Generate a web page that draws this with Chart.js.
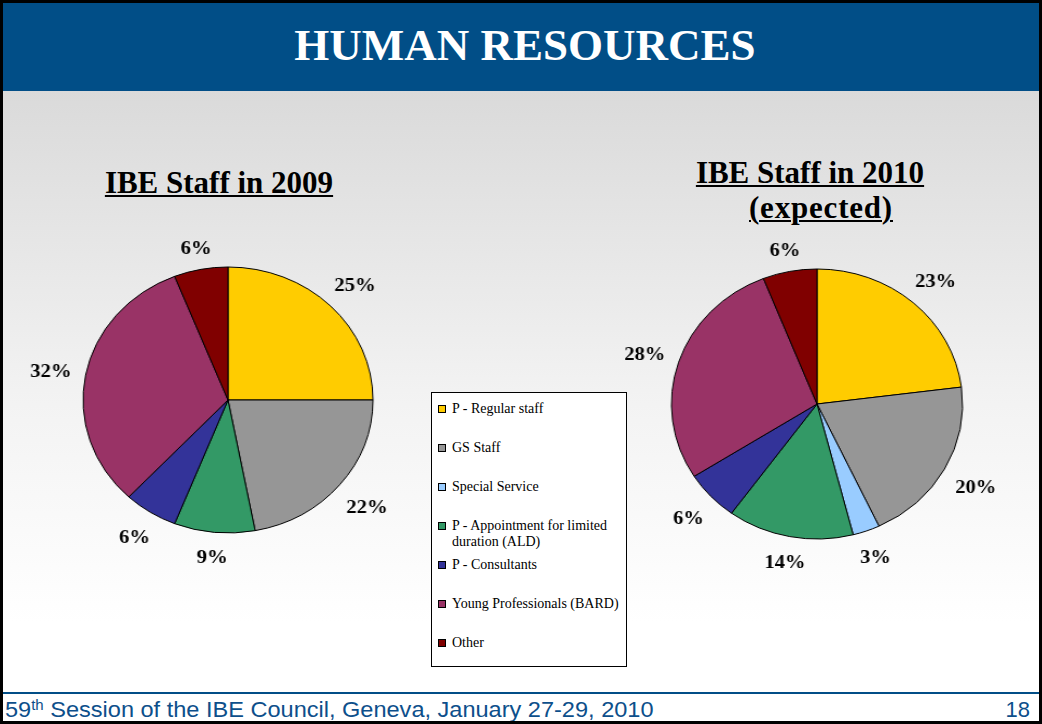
<!DOCTYPE html>
<html>
<head>
<meta charset="utf-8">
<title>Human Resources</title>
<script src="https://cdn.jsdelivr.net/npm/chart.js@4.4.1/dist/chart.umd.min.js"></script>
<style>
    html, body { margin: 0; padding: 0; background: #fff; }
    #slide {
        position: relative; width: 1042px; height: 724px; box-sizing: border-box;
        border: 3px solid #000; overflow: hidden;
        background: linear-gradient(to bottom, #dadada 0px, #dadada 88px, #f3f3f3 400px, #ffffff 620px, #ffffff 724px);
    }
    #header {
        position: absolute; left: 0; top: 0; width: 100%; height: 88px; background: #014e87;
    }
    #header div {
        position: absolute; left: 0; top: 17px; width: 100%; text-align: center;
        font: bold 45px/50px "Liberation Serif", serif; color: #fff; padding-left: 4px;
    }
    .ptitle {
        position: absolute; text-align: center; color: #000;
        font: bold 31px/35px "Liberation Serif", serif;
    }
    .ptitle u { text-decoration-thickness: 2px; text-underline-offset: 2px; }
    .pie { position: absolute; width: 370px; height: 370px; }
    #legend {
        position: absolute; left: 428px; top: 389px; width: 194px; height: 273px;
        background: #fff; border: 1px solid #000; z-index: 2;
    }
    .litem {
        position: absolute; left: 20px; width: 174px;
        font: 14px/16px "Liberation Serif", serif; color: #000;
    }
    .litem span.sw {
        position: absolute; left: -14px; top: 4px; width: 6px; height: 6px; border: 1px solid #000;
    }
    #footline { position: absolute; left: 0; top: 689px; width: 100%; height: 2px; background: #014e87; }
    #footer {
        position: absolute; left: 2px; top: 695px; color: #0d4f8b; white-space: nowrap;
        font: 22px/24px "Liberation Sans", Arial, sans-serif;
        transform: scaleX(1.07); transform-origin: 0 0;
    }
    #footer sup { font-size: 14px; vertical-align: 7px; line-height: 0; }
    #pageno {
        position: absolute; right: 9px; top: 695px; color: #0d4f8b;
        font: 22px/24px "Liberation Sans", Arial, sans-serif;
    }
</style>
</head>
<body>
<div id="slide">
    <div id="header"><div>HUMAN RESOURCES</div></div>

    <div class="ptitle" style="left:56px; top:162px; width:320px;"><u>IBE Staff in 2009</u></div>
    <div class="ptitle" style="left:647px; top:152px; width:320px;"><u>IBE Staff in 2010</u><br><span style="padding-left:22px; letter-spacing:0.8px"><u>(expected)</u></span></div>

    <div class="pie" id="pie2009"><canvas id="c2009" width="370" height="370"></canvas></div>
    <div class="pie" id="pie2010"><canvas id="c2010" width="370" height="370"></canvas></div>

    <div id="legend"></div>

    <div id="footline"></div>
    <div id="footer">59<sup>th</sup> Session of the IBE Council, Geneva, January 27-29, 2010</div>
    <div id="pageno">18</div>
</div>

<script>
// categories, same order for both years
var categories = [
    'P - Regular staff',
    'GS Staff',
    'Special Service',
    'P - Appointment for limited duration (ALD)',
    'P - Consultants',
    'Young Professionals (BARD)',
    'Other'
];
var colors = ['#ffcc00', '#969696', '#99ccff', '#339966', '#333399', '#993366', '#800000'];

// shares in %
var staff2009 = [25, 22, 0, 9, 6, 32, 6];
var staff2010 = [23, 20, 3, 14, 6, 28, 6];

// labels outside each slice
var outerLabels = {
    id: 'outerLabels',
    afterDatasetsDraw(chart) {
        var ctx = chart.ctx;
        var meta = chart.getDatasetMeta(0);
        var data = chart.data.datasets[0].data;
        var total = data.reduce((a, b) => a + b, 0);
        ctx.save();
        ctx.font = 'bold 19px "Liberation Serif", serif';
        ctx.fillStyle = '#000';
        ctx.textAlign = 'center';
        ctx.textBaseline = 'middle';
        meta.data.forEach((arc, i) => {
            if (!data[i]) return;
            let p = arc.getProps(['x', 'y', 'startAngle', 'endAngle', 'outerRadius']);
            let mid = (p.startAngle + p.endAngle) / 2;
            let txt = Math.round(data[i] / total * 100) + '%';
            let w = ctx.measureText(txt).width;
            let dx = Math.cos(mid), dy = Math.sin(mid);
            let r = p.outerRadius + 12 + Math.abs(dx) * w / 2 + Math.abs(dy) * 9;
            ctx.fillText(txt, p.x + dx * r, p.y + dy * r + 3);
        });
        ctx.restore();
    }
};

// pie drawn round, then the box is stretched sideways like the slide
function makePie(id, boxId, values, radius, cx, cy, sx) {
    var box = document.getElementById(boxId);
    box.style.left = (cx - 185) + 'px';
    box.style.top = (cy - 185) + 'px';
    box.style.transformOrigin = '185px 185px';
    box.style.transform = 'scaleX(' + sx + ')';
    return new Chart(document.getElementById(id), {
        type: 'pie',
        data: {
            labels: categories,
            datasets: [{
                data: values,
                backgroundColor: colors,
                borderColor: '#000',
                borderWidth: 1
            }]
        },
        options: {
            responsive: false,
            animation: false,
            radius: radius,
            layout: { padding: 0 },
            plugins: {
                legend: { display: false },
                tooltip: { enabled: false }
            }
        },
        plugins: [outerLabels]
    });
}

makePie('c2009', 'pie2009', staff2009, 133, 225, 397, 1.09);
makePie('c2010', 'pie2010', staff2010, 135, 814, 401, 1.078);

// shared legend box between the two pies
var legend = document.getElementById('legend');
categories.forEach((c, i) => {
    let item = document.createElement('div');
    item.className = 'litem';
    item.style.top = (8 + i * 39) + 'px';
    item.innerHTML = '<span class="sw" style="background:' + colors[i] + '"></span>' + c;
    legend.appendChild(item);
});
</script>
</body>
</html>
